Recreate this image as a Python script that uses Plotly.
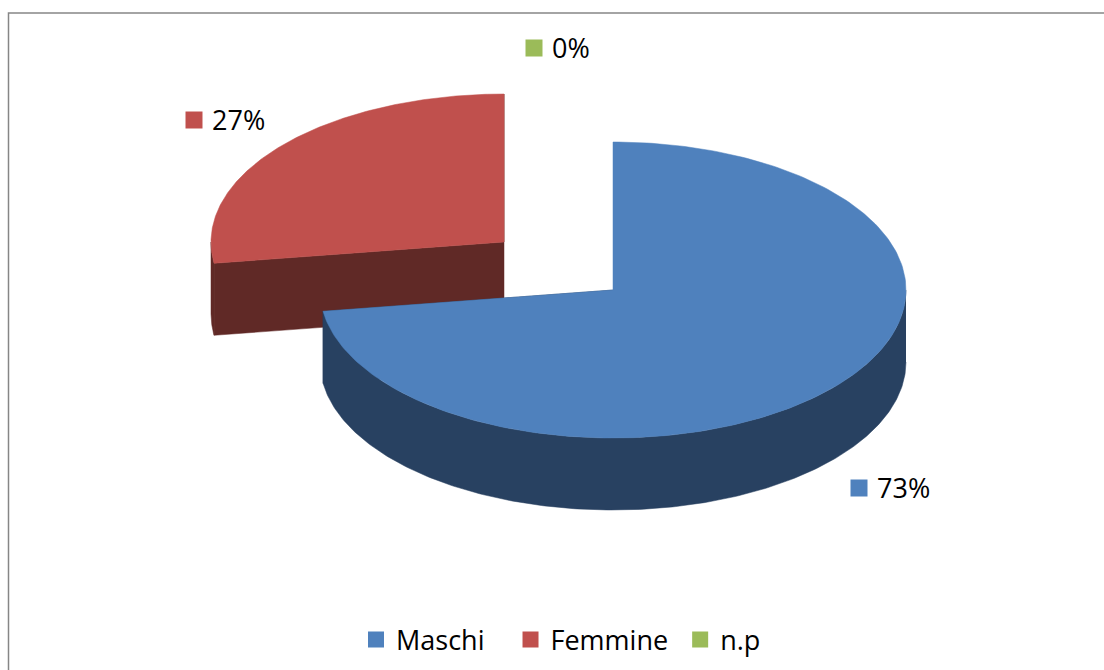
import numpy as np
import plotly.graph_objects as go

# --- data ---
categories = ["Maschi", "Femmine", "n.p"]
values = [72.7, 27.3, 0.0]
percent_labels = ["73%", "27%", "0%"]

# --- styles and layout constants ---
top_colors = ["#4F81BD", "#C0504D", "#9BBB59"]
side_colors = ["#284161", "#602926", "#5F7530"]
slice_centers = [(613, 290), (504, 242), (504, 242)]
RX, RY, DEPTH = 293, 148, 72
label_positions = [(859, 488), (194, 120), (534, 48)]
LABEL_TEXT_DX, LABEL_TEXT_DY = 18, 3
legend_padding = ["\u00a0\u00a0\u00a0", "\u00a0", ""]  # widens entries to the reference's spacing
FONT = "Open Sans"
W, H = 1104, 670


def arc(center, a0, a1, n=240):
    t = np.radians(np.linspace(a0, a1, n))
    return center[0] + RX * np.sin(t), center[1] - RY * np.cos(t)


def poly(fig, xs, ys, color):
    fig.add_trace(go.Scatter(x=xs, y=ys, mode="lines", fill="toself", fillcolor=color,
                             line=dict(color=color, width=0.5), hoverinfo="skip",
                             showlegend=False))


fig = go.Figure()
total = sum(values)
starts = np.cumsum([0] + values[:-1]) / total * 360
ends = np.cumsum(values) / total * 360

# paint back-to-front: the detached slice sits behind the larger one
for i in [1, 0]:
    a0, a1 = starts[i], ends[i]
    c = slice_centers[i]
    # flat cut faces of the wedge
    for a in (a0, a1):
        ex, ey = arc(c, a, a, 1)
        if np.sin(np.radians(a)) < 0:  # cut face turned to the viewer
            poly(fig, [c[0], ex[0], ex[0], c[0]],
                 [c[1], ey[0], ey[0] + DEPTH, c[1] + DEPTH], side_colors[i])
    # outer rim, only the front half of the ellipse is visible
    r0, r1 = max(a0, 90), min(a1, 270)
    if r1 > r0:
        rx_, ry_ = arc(c, r0, r1)
        poly(fig, np.r_[rx_, rx_[::-1]], np.r_[ry_, ry_[::-1] + DEPTH], side_colors[i])
    # top face
    tx, ty = arc(c, a0, a1)
    poly(fig, np.r_[c[0], tx, c[0]], np.r_[c[1], ty, c[1]], top_colors[i])

# data labels with their colour keys
for i, cat in enumerate(categories):
    lx, ly = label_positions[i]
    fig.add_trace(go.Scatter(
        x=[lx], y=[ly], mode="markers",
        marker=dict(symbol="square", size=17, color=top_colors[i]),
        hoverinfo="skip", showlegend=False))
    fig.add_trace(go.Scatter(
        x=[lx + LABEL_TEXT_DX], y=[ly + LABEL_TEXT_DY], mode="text",
        text=[percent_labels[i]], textposition="middle right",
        textfont=dict(family=FONT, size=27, color="#000000"),
        hoverinfo="skip", showlegend=False))

# legend entries
for i, cat in enumerate(categories):
    fig.add_trace(go.Scatter(x=[None], y=[None], mode="markers", name=cat + legend_padding[i],
                             marker=dict(symbol="square", size=16, color=top_colors[i])))

fig.update_layout(
    width=W, height=H, margin=dict(l=0, r=0, t=0, b=0),
    paper_bgcolor="#FFFFFF", plot_bgcolor="#FFFFFF",
    xaxis=dict(range=[0, W], visible=False, fixedrange=True),
    yaxis=dict(range=[H, 0], visible=False, fixedrange=True),
    legend=dict(orientation="h", x=356 / W, xanchor="left", y=1 - 640 / H, yanchor="middle",
                font=dict(family=FONT, size=27, color="#000000"),
                bgcolor="rgba(0,0,0,0)"),
    shapes=[dict(type="rect", xref="x", yref="y", x0=8.5, y0=13, x1=W + 5, y1=H + 5,
                 line=dict(color="#868686", width=1.5))],
)
fig.write_html("out.html", config=dict(displayModeBar=False),
               post_script="document.body.style.margin='0';"
                           "document.documentElement.style.overflow='hidden';")
